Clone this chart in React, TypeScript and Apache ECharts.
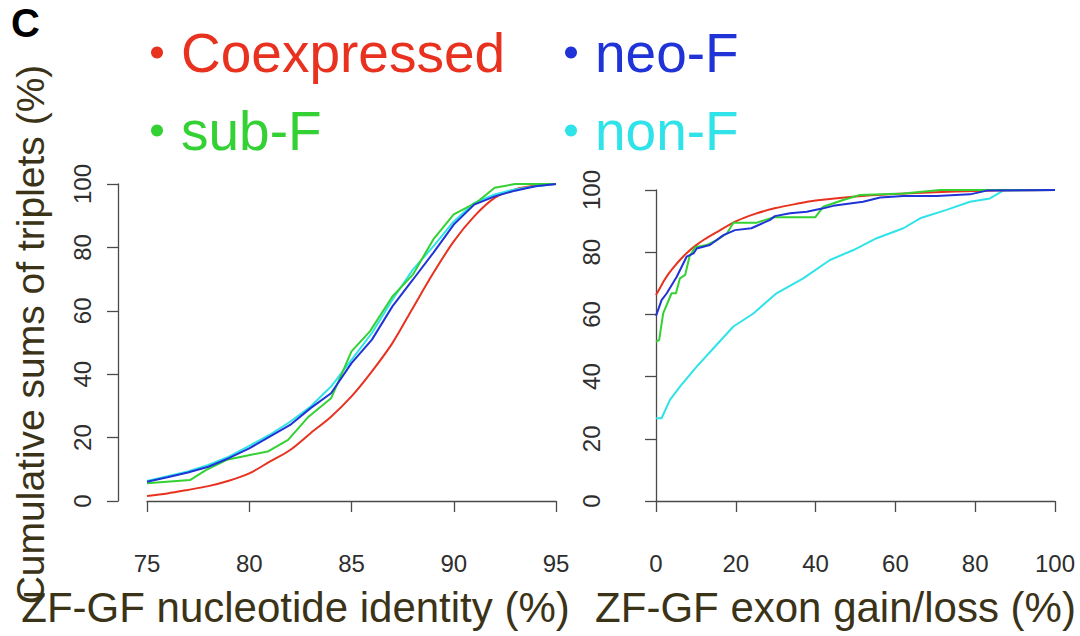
import React, { useEffect, useRef } from "react";
import * as echarts from "echarts";

const FONT = "'Liberation Sans', Arial, Helvetica, sans-serif";
const RED = "#e8321f";
const BLUE = "#1f33d6";
const GREEN = "#33d133";
const CYAN = "#2fe3e8";
const TITLE_COLOR = "#3b3318";
const TICK_COLOR = "#2e2e2e";
const AXIS_COLOR = "#4a4a4a";

const seriesNames = ["Coexpressed", "neo-F", "sub-F", "non-F"];

// Left panel: ZF-GF nucleotide identity (%)
const leftTicks = { min: 75, max: 95, interval: 5 };
const leftX = [75, 76, 77, 78, 79, 80, 81, 82, 83, 84, 85, 86, 87, 88, 89, 90, 91, 92, 93, 94, 95];
const leftCoexpressed = [1.6, 2.4, 3.5, 4.7, 6.4, 8.7, 12.4, 16.1, 21.4, 26.6, 33, 40.9, 49.8, 60.9, 71.9, 81.9, 89.8, 95.6, 98.3, 99.5, 100];
const leftNeoF = [6.1, 7.5, 9, 10.8, 13.5, 16.6, 20.3, 24, 29.3, 34, 43.5, 50.9, 61.4, 69.8, 78.3, 87.2, 93.5, 96.1, 97.9, 99.3, 100];
const leftNonF = [6.3, 7.8, 9.3, 11.4, 14, 17.4, 20.9, 25, 29.8, 36.1, 44.5, 53, 63.5, 73, 80.3, 88.2, 94, 96.7, 98.3, 99.3, 100];
const leftSubFX = [75, 77.1, 77.9, 78.9, 79.8, 80.9, 81.9, 82.9, 84.0, 85.0, 85.9, 87.0, 88.0, 89.0, 90.0, 91.1, 92.0, 93.0, 95];
const leftSubFY = [5.6, 6.6, 9.8, 13, 14.2, 15.6, 19.3, 26.6, 32.4, 47.2, 53.5, 64.5, 71.4, 82.5, 90.4, 94.1, 98.8, 100, 100];

// Right panel: ZF-GF exon gain/loss (%)
const rightTicks = { min: 0, max: 100, interval: 20 };
const rightCoexX = [0, 1, 2, 3, 4, 6, 8, 10, 12, 15, 20, 25, 30, 35, 40, 50, 60, 70, 80, 90, 100];
const rightCoexY = [66.2, 68.5, 70.8, 72.8, 74.5, 77.5, 80.1, 82.2, 84.0, 86.3, 89.9, 92.4, 94.2, 95.5, 96.6, 97.9, 98.7, 99.3, 99.7, 99.9, 100];
const rightNeoX = [0, 1.4, 2.7, 5.2, 7.7, 9.4, 10.2, 13.5, 16.9, 19.8, 23.9, 28.6, 29.8, 33.6, 37.8, 41.9, 44.4, 51.9, 56.2, 62, 70.3, 78.7, 82.9, 100];
const rightNeoY = [59.5, 64.6, 66.8, 72.1, 78.6, 79.6, 81.2, 82.3, 85.5, 87.1, 87.7, 90.4, 91.6, 92.5, 93, 94.1, 94.9, 96.2, 97.6, 98.1, 98.1, 98.6, 99.8, 100];
const rightSubX = [0, 0.8, 1.8, 3.9, 5.0, 6.0, 7.3, 8.4, 9.8, 12.7, 15.2, 17.8, 19.4, 25.3, 29.4, 39.9, 41.9, 46.9, 51.1, 62, 71.2, 100];
const rightSubY = [51.2, 51.8, 60.3, 66.8, 66.8, 71.6, 72.7, 78.6, 81.6, 82.3, 83.9, 86.1, 89.5, 89.5, 91.2, 91.2, 94.6, 96.8, 98.4, 98.9, 100, 100];
const rightNonX = [0, 1.4, 3.5, 6, 10.2, 14.4, 19.4, 24.4, 30.2, 36.9, 43.6, 49.5, 55.3, 62, 66.2, 72.8, 78.7, 83.7, 87, 100];
const rightNonY = [26.6, 26.6, 32.5, 36.8, 43.2, 49.1, 56.1, 60.3, 66.8, 71.6, 77.5, 80.7, 84.5, 87.7, 90.9, 93.6, 96.2, 97.3, 99.8, 100];

const yTicks = { min: 0, max: 100, interval: 20 };

const zip = (xs: number[], ys: number[]) => xs.map((x, i) => [x, ys[i]]);

export default function App() {
  const ref = useRef<HTMLDivElement>(null);
  useEffect(() => {
    if (!ref.current) return;
    const chart = echarts.init(ref.current, null, { renderer: "svg" });

    const axisCommon = {
      type: "value" as const,
      splitLine: { show: false },
      axisLine: { show: true, lineStyle: { color: AXIS_COLOR, width: 1.3 } },
      axisTick: { show: true, length: 11, lineStyle: { color: AXIS_COLOR, width: 1.3 } },
      axisLabel: { fontSize: 24, color: TICK_COLOR, fontFamily: FONT, showMinLabel: true, showMaxLabel: true },
    };

    const lineStyle = (color: string) => ({
      type: "line" as const,
      showSymbol: false,
      symbol: "none",
      lineStyle: { color, width: 2 },
      itemStyle: { color },
      z: 3,
    });

    const legendItem = (name: string, color: string, left: number, top: number) => ({
      left,
      top,
      icon: "circle",
      itemWidth: 12,
      itemHeight: 12,
      selectedMode: false,
      textStyle: { fontSize: 55, fontFamily: FONT, color, padding: [0, 0, 0, 13] },
      data: [name],
    });

    chart.setOption({
      animation: false,
      backgroundColor: "#ffffff",
      title: {
        text: "C",
        left: 6,
        top: -2,
        textStyle: { fontSize: 40, fontWeight: "bold", color: "#000000", fontFamily: FONT },
      },
      legend: [
        legendItem(seriesNames[0], RED, 146, 20),
        legendItem(seriesNames[1], BLUE, 560, 20),
        legendItem(seriesNames[2], GREEN, 146, 98),
        legendItem(seriesNames[3], CYAN, 560, 98),
      ],
      grid: [
        { left: 147, top: 184, width: 409, height: 317, containLabel: false, outerBoundsMode: "none" },
        { left: 656, top: 190, width: 399, height: 311, containLabel: false, outerBoundsMode: "none" },
      ],
      xAxis: [
        {
          ...axisCommon,
          gridIndex: 0,
          ...leftTicks,
          offset: 28,
          axisLabel: { ...axisCommon.axisLabel, margin: 22 },
          name: "ZF-GF nucleotide identity (%)",
          nameLocation: "middle",
          nameGap: 57,
          nameTextStyle: { fontSize: 42, color: TITLE_COLOR, fontFamily: FONT, padding: [0, 112, 0, 0] },
        },
        {
          ...axisCommon,
          gridIndex: 1,
          ...rightTicks,
          offset: 28,
          axisLabel: { ...axisCommon.axisLabel, margin: 22 },
          name: "ZF-GF exon gain/loss (%)",
          nameLocation: "middle",
          nameGap: 57,
          nameTextStyle: { fontSize: 42, color: TITLE_COLOR, fontFamily: FONT, padding: [0, 40, 0, 0] },
        },
      ],
      yAxis: [
        {
          ...axisCommon,
          gridIndex: 0,
          ...yTicks,
          offset: 29,
          axisLabel: { ...axisCommon.axisLabel, rotate: 90, margin: 24 },
          name: "Cumulative sums of triplets (%)",
          nameLocation: "middle",
          nameRotate: 90,
          nameGap: 68,
          nameTextStyle: { fontSize: 39, color: TITLE_COLOR, fontFamily: FONT, padding: [0, 0, 0, 16] },
        },
        {
          ...axisCommon,
          gridIndex: 1,
          ...yTicks,
          offset: 31,
          axisLabel: { ...axisCommon.axisLabel, rotate: 90, margin: 22 },
        },
      ],
      series: [
        { ...lineStyle(RED), name: seriesNames[0], xAxisIndex: 0, yAxisIndex: 0, smooth: 0.3, data: zip(leftX, leftCoexpressed) },
        { ...lineStyle(CYAN), name: seriesNames[3], xAxisIndex: 0, yAxisIndex: 0, data: zip(leftX, leftNonF) },
        { ...lineStyle(GREEN), name: seriesNames[2], xAxisIndex: 0, yAxisIndex: 0, data: zip(leftSubFX, leftSubFY) },
        { ...lineStyle(BLUE), name: seriesNames[1], xAxisIndex: 0, yAxisIndex: 0, data: zip(leftX, leftNeoF) },
        { ...lineStyle(CYAN), name: seriesNames[3], xAxisIndex: 1, yAxisIndex: 1, data: zip(rightNonX, rightNonY) },
        { ...lineStyle(RED), name: seriesNames[0], xAxisIndex: 1, yAxisIndex: 1, smooth: 0.3, data: zip(rightCoexX, rightCoexY) },
        { ...lineStyle(GREEN), name: seriesNames[2], xAxisIndex: 1, yAxisIndex: 1, data: zip(rightSubX, rightSubY) },
        { ...lineStyle(BLUE), name: seriesNames[1], xAxisIndex: 1, yAxisIndex: 1, data: zip(rightNeoX, rightNeoY) },
      ],
    });
    return () => chart.dispose();
  }, []);

  return <div ref={ref} style={{ width: 1080, height: 636, position: "absolute", left: 0, top: 0 }} />;
}
